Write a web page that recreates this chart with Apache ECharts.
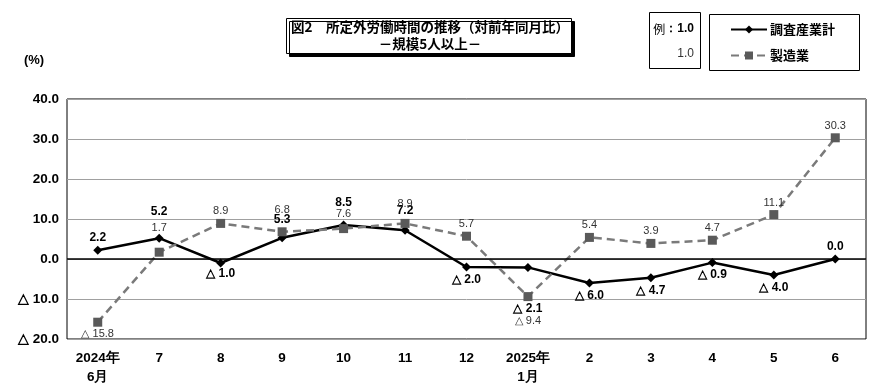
<!DOCTYPE html>
<html><head><meta charset="utf-8">
<script src="https://cdn.jsdelivr.net/npm/echarts@6/dist/echarts.min.js"></script>
<style>html,body{margin:0;padding:0;background:#fff}#c{width:890px;height:391px}</style>
</head><body><div id="c"></div>
<script>
const categories = ['2024年\n6月','7','8','9','10','11','12','2025年\n1月','2','3','4','5','6'];
const totalName = '調査産業計';
const manufName = '製造業';
const totalValues = [2.2, 5.2, -1.0, 5.3, 8.5, 7.2, -2.0, -2.1, -6.0, -4.7, -0.9, -4.0, 0.0];
const manufValues = [-15.8, 1.7, 8.9, 6.8, 7.6, 8.9, 5.7, -9.4, 5.4, 3.9, 4.7, 11.1, 30.3];
const yTicks = { min: -20, max: 40, interval: 10 };

// extra label spacing (pixels) to avoid overlaps, per point
const totalLabelExtra = [0, 14, -2, 6, 10, 7, 0, 29, 0, 0, 0, 0, 0];
const manufLabelExtra = [0, 12, 0, 10, 3, 7, 0, 12, 0, 0, 0, 0, 0];

const NARROW = '"Liberation Sans",Arial,sans-serif';
const CJK = '"Noto Sans CJK JP","Noto Sans",sans-serif';

function fmt(v){ return v < 0 ? '△ ' + Math.abs(v).toFixed(1) : v.toFixed(1); }

function buildData(values, extra){
  return values.map((v,i)=>{
    const top = v >= 0;
    return { value: v, label: { position: top ? 'top' : 'bottom', offset: [0, top ? -extra[i] : extra[i]] } };
  });
}

const chart = echarts.init(document.getElementById('c'), null, {renderer:'canvas'});
chart.setOption({
  animation: false,
  grid: { left: 67, right: 24, top: 99, bottom: 52, show: true, borderColor: '#000', borderWidth: 1, backgroundColor: 'transparent' },
  xAxis: {
    type: 'category', data: categories, boundaryGap: true,
    axisLine: { show: false }, axisTick: { show: false },
    axisLabel: { interval: 0, margin: 10, fontFamily: NARROW, fontSize: 13.5, fontWeight: 'bold', color: '#000', lineHeight: 19 }
  },
  yAxis: {
    type: 'value', min: yTicks.min, max: yTicks.max, interval: yTicks.interval,
    axisLine: { show: false }, axisTick: { show: false },
    axisLabel: { margin: 8, formatter: fmt, fontFamily: NARROW, fontSize: 13.5, fontWeight: 'bold', color: '#000' },
    splitLine: { show: true, lineStyle: { color: '#a0a0a0', width: 1 } }
  },
  legend: {
    orient: 'vertical', left: 725, top: 18, itemGap: 13, itemWidth: 36, itemHeight: 10,
    selectedMode: false,
    textStyle: { fontFamily: CJK, fontSize: 13, fontWeight: 'bold', color: '#000', padding: [0,0,0,-2] },
    data: [totalName, manufName]
  },
  series: [
    {
      name: totalName, type: 'line', data: buildData(totalValues, totalLabelExtra),
      symbol: 'diamond', symbolSize: 9,
      lineStyle: { color: '#000', width: 2.5 },
      itemStyle: { color: '#000' },
      label: { show: true, distance: 2, formatter: p => fmt(p.value), fontFamily: NARROW, fontSize: 12, fontWeight: 'bold', color: '#000' },
      markLine: { silent: true, symbol: 'none', label: { show: false }, lineStyle: { color: '#000', width: 1.6, type: 'solid' }, data: [{ yAxis: 0 }] },
      z: 2
    },
    {
      name: manufName, type: 'line', data: buildData(manufValues, manufLabelExtra),
      symbol: 'rect', symbolSize: 9,
      lineStyle: { color: '#7a7a7a', width: 2.5, type: [8, 5] },
      itemStyle: { color: '#5a5a5a' },
      label: { show: true, distance: 2, formatter: p => fmt(p.value), fontFamily: NARROW, fontSize: 11, color: '#333' },
      z: 3
    }
  ],
  graphic: [
    { type: 'rect', left: 286, top: 18, shape: { width: 285, height: 35 }, style: { fill: '#fff', stroke: '#000', lineWidth: 1, shadowColor: '#000', shadowOffsetX: 3, shadowOffsetY: 3, shadowBlur: 0 } },
    { type: 'text', x: 430, y: 27, style: { text: '図2　所定外労働時間の推移（対前年同月比）', font: 'bold 13.5px ' + CJK, fill: '#000', align: 'center', verticalAlign: 'middle' } },
    { type: 'text', x: 430, y: 44, style: { text: '－規模5人以上－', font: 'bold 13.5px ' + CJK, fill: '#000', align: 'center', verticalAlign: 'middle' } },
    { type: 'rect', left: 649, top: 12, shape: { width: 51, height: 56 }, style: { fill: '#fff', stroke: '#000', lineWidth: 1 } },
    { type: 'text', x: 694, y: 29, style: { text: '{a|例}{b|：1.0}', rich: { a: { fontFamily: CJK, fontSize: 12, fill: '#000' }, b: { fontFamily: NARROW, fontSize: 12, fontWeight: 'bold', fill: '#000' } }, align: 'right', verticalAlign: 'middle' } },
    { type: 'text', x: 694, y: 54, style: { text: '1.0', font: '12px ' + NARROW, fill: '#333', align: 'right', verticalAlign: 'middle' } },
    { type: 'rect', left: 707, top: 12, shape: { width: 150, height: 56 }, style: { fill: 'none', stroke: '#000', lineWidth: 1 }, z: -1 },
    { type: 'text', x: 34, y: 60, style: { text: '(%)', font: 'bold 13px ' + NARROW, fill: '#000', align: 'center', verticalAlign: 'middle' } }
  ]
});
</script></body></html>
